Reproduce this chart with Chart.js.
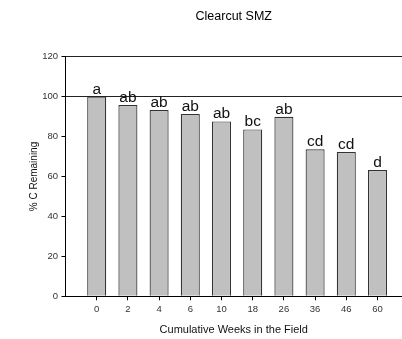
<!DOCTYPE html>
<html>
<head>
<meta charset="utf-8">
<script src="https://cdn.jsdelivr.net/npm/chart.js@4/dist/chart.umd.min.js"></script>
<style>
  html, body { margin: 0; padding: 0; background: #fff; }
  canvas { display: block; }
</style>
</head>
<body>
<canvas id="smz" width="402" height="339"></canvas>
<script>
// Percent carbon remaining by sampling week, with significance groups
const weeks = ['0', '2', '4', '6', '10', '18', '26', '36', '46', '60'];
const carbonRemaining = [100, 95.8, 93.3, 91.3, 87.6, 83.6, 89.9, 73.6, 72.3, 63.2];
const groups = ['a', 'ab', 'ab', 'ab', 'ab', 'bc', 'ab', 'cd', 'cd', 'd'];
const yTicks = [0, 20, 40, 60, 80, 100, 120];

const FONT = "'Liberation Sans', Arial, sans-serif";
Chart.defaults.font.family = FONT;

// letters over each bar
const groupLabels = {
  id: 'groupLabels',
  afterDatasetsDraw(chart) {
    const ctx = chart.ctx;
    const bars = chart.getDatasetMeta(0).data;
    ctx.save();
    ctx.font = '15.5px ' + FONT;
    ctx.fillStyle = '#111';
    ctx.textAlign = 'center';
    ctx.textBaseline = 'alphabetic';
    bars.forEach((bar, i) => {
      ctx.fillText(groups[i], bar.x, bar.y - 3);
    });
    ctx.restore();
  }
};

new Chart(document.getElementById('smz').getContext('2d'), {
  type: 'bar',
  data: {
    datasets: [{
      data: carbonRemaining.map((v, i) => ({ x: i, y: v })),
      backgroundColor: '#c0c0c0',
      borderColor: '#333',
      borderWidth: 1.2,
      barPercentage: 0.61,
      categoryPercentage: 1
    }]
  },
  options: {
    responsive: false,
    animation: false,
    layout: { padding: { top: 0.7, left: 0, right: 0, bottom: 0 } },
    plugins: {
      legend: { display: false },
      tooltip: { enabled: false },
      title: {
        display: true,
        text: 'Clearcut SMZ',
        fullSize: false,
        color: '#000',
        font: { size: 12.5, weight: 'normal' },
        padding: { top: 8, bottom: 33 }
      }
    },
    scales: {
      x: {
        type: 'linear',
        offset: false,
        min: -1,
        max: 9.785,
        afterBuildTicks: (axis) => { axis.ticks = weeks.map((_, i) => ({ value: i })); },
        afterFit: (axis) => { axis.height = 42.7; },
        border: { display: true, color: '#000', width: 1 },
        grid: { offset: false, drawOnChartArea: false, drawTicks: true, tickLength: 4, tickColor: '#000' },
        ticks: {
          padding: 3,
          color: '#333',
          font: { size: 9.5 },
          maxRotation: 0,
          callback: (v) => weeks[v]
        },
        title: {
          display: true,
          text: 'Cumulative Weeks in the Field',
          color: '#111',
          font: { size: 11 },
          padding: { top: 0, bottom: 2.4 }
        }
      },
      y: {
        min: 0,
        max: 120,
        afterBuildTicks: (axis) => { axis.ticks = yTicks.map(v => ({ value: v })); },
        afterFit: (axis) => { axis.width = 65.5; },
        border: { display: true, color: '#000', width: 1 },
        grid: {
          drawTicks: true,
          tickLength: 4,
          tickColor: '#000',
          color: (c) => (c.tick && (c.tick.value === 100 || c.tick.value === 120)) ? '#222' : 'rgba(0,0,0,0)',
          lineWidth: 1
        },
        ticks: { padding: 3.5, color: '#333', font: { size: 9.5 } },
        title: {
          display: true,
          text: '% C Remaining',
          color: '#111',
          font: { size: 10 },
          padding: { top: 28, bottom: 0 }
        }
      }
    }
  },
  plugins: [groupLabels]
});
</script>
</body>
</html>
